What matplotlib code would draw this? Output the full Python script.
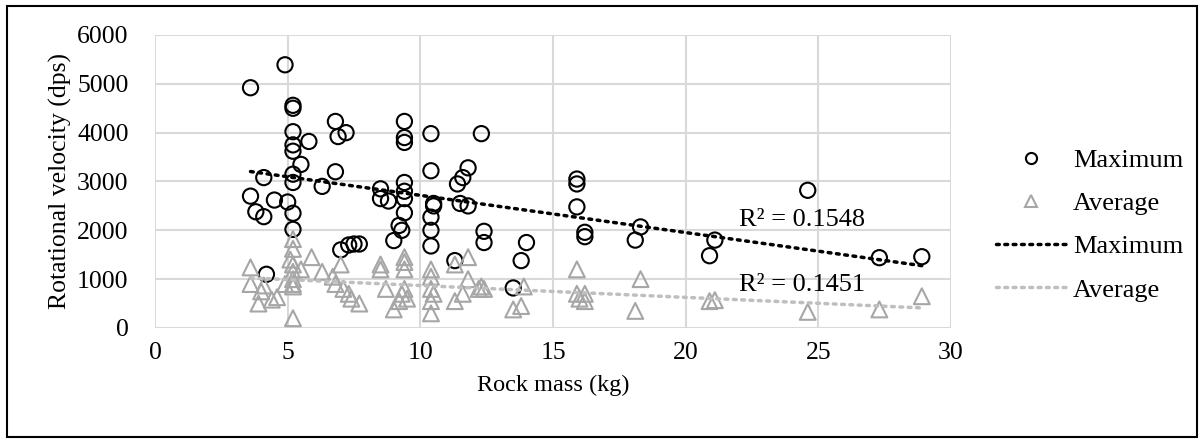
import numpy as np
import matplotlib.pyplot as plt
from matplotlib.lines import Line2D
from matplotlib.patches import Rectangle

plt.rcParams['font.family'] = ['Liberation Serif', 'DejaVu Serif']

# Maximum rotational velocity (circles)
max_mass = [3.6, 3.6, 3.8, 4.1, 4.1, 4.2, 4.5, 4.9, 5.0, 5.2, 5.2, 5.2, 5.2, 5.2,
            5.2, 5.2, 5.2, 5.2, 5.5, 5.8, 6.3, 6.8, 6.8, 6.9, 7.0, 7.2, 7.3, 7.5,
            7.7, 8.5, 8.5, 8.8, 9.0, 9.2, 9.3, 9.4, 9.4, 9.4, 9.4, 9.4, 9.4, 9.4,
            10.4, 10.4, 10.5, 10.5, 10.4, 10.4, 10.4, 11.3, 11.4, 11.5, 11.6, 11.8,
            11.8, 12.3, 12.4, 12.4, 13.5, 13.8, 14.0, 15.9, 15.9, 15.9, 16.2, 16.2,
            18.1, 18.3, 20.9, 21.1, 24.6, 27.3, 28.9]
max_vel = [4920, 2700, 2380, 3080, 2280, 1100, 2620, 5390, 2580, 4560, 4500, 4020,
           3750, 3620, 3150, 2980, 2350, 2020, 3350, 3820, 2900, 4230, 3200, 3920,
           1600, 4000, 1700, 1720, 1720, 2850, 2650, 2600, 1790, 2100, 2000, 4230,
           3900, 3800, 2980, 2800, 2650, 2360, 3980, 3220, 2550, 2500, 2270, 2000,
           1680, 1380, 2950, 2550, 3080, 3280, 2500, 3980, 1980, 1750, 820, 1380,
           1750, 3050, 2950, 2480, 1960, 1870, 1800, 2070, 1480, 1800, 2820, 1440,
           1460]

# Average rotational velocity (triangles)
avg_mass = [3.6, 3.6, 3.9, 4.1, 4.0, 4.4, 4.6, 4.9, 5.1, 5.2, 5.2, 5.2, 5.2, 5.2,
            5.2, 5.2, 5.2, 5.5, 5.9, 6.3, 6.7, 6.8, 7.0, 7.1, 7.3, 7.4, 7.7, 8.5,
            8.5, 8.7, 9.0, 9.2, 9.3, 9.4, 9.4, 9.4, 9.4, 9.5, 10.4, 10.4, 10.4,
            10.5, 10.4, 10.4, 11.3, 11.3, 11.6, 11.8, 11.8, 12.2, 12.3, 12.4, 13.5,
            13.8, 13.9, 15.9, 15.9, 16.0, 16.2, 16.2, 18.1, 18.3, 20.9, 21.1, 24.6,
            27.3, 28.9]
avg_vel = [1240, 900, 500, 870, 750, 580, 630, 900, 1400, 1620, 1820, 1300, 1150,
           1000, 900, 850, 200, 1200, 1450, 1150, 1050, 900, 1300, 800, 700, 600,
           500, 1300, 1200, 800, 380, 550, 700, 1450, 1350, 1200, 800, 600, 1200,
           1050, 800, 700, 550, 300, 1300, 550, 700, 1000, 1450, 800, 850, 800,
           380, 450, 850, 1200, 700, 600, 700, 550, 350, 1000, 550, 570, 330, 380,
           650]

r2_max = '0.1548'
r2_avg = '0.1451'

FS = 19

fig = plt.figure(figsize=(12.04, 4.43), dpi=100)
ax = fig.add_axes([155 / 1204, 1 - 328 / 443, (951 - 155) / 1204, (328 - 35) / 443])

ax.scatter(max_mass, max_vel, s=120, facecolors='none', edgecolors='black',
           linewidths=1.5, marker='o', zorder=3)
ax.scatter(avg_mass, avg_vel, s=130, facecolors='none', edgecolors='#a6a6a6',
           linewidths=1.5, marker='^', zorder=3)

# linear trend lines
for xs, ys, col in [(max_mass, max_vel, 'black'), (avg_mass, avg_vel, '#bfbfbf')]:
    k, b = np.polyfit(xs, ys, 1)
    xx = np.array([min(xs), max(xs)])
    ax.plot(xx, k * xx + b, color=col, linestyle=(0, (0.8, 1.6)),
            linewidth=2.5, dash_capstyle='round', zorder=4)

ax.text(22.0, 2218, 'R² = ' + r2_max, fontsize=FS, va='center', ha='left')
ax.text(22.0, 883, 'R² = ' + r2_avg, fontsize=FS, va='center', ha='left')

ax.set_xlim(0, 30)
ax.set_ylim(0, 6000)
ax.set_xticks(range(0, 31, 5))
ax.set_yticks(range(0, 6001, 1000))
ax.grid(True, color='#d9d9d9', linewidth=1.5)
ax.set_axisbelow(True)
for s in ax.spines.values():
    s.set_visible(False)
ax.tick_params(length=0, labelsize=18.5)
ax.tick_params(axis='y', pad=19)
ax.tick_params(axis='x', pad=10)
ax.set_xlabel('Rock mass (kg)', fontsize=17.5, labelpad=8)
ax.set_ylabel('Rotational velocity (dps)', fontsize=18.5, labelpad=4)

handles = [
    Line2D([], [], marker='o', linestyle='none', markerfacecolor='none',
           markeredgecolor='black', markersize=8, markeredgewidth=1.5),
    Line2D([], [], marker='^', linestyle='none', markerfacecolor='none',
           markeredgecolor='#a6a6a6', markersize=8, markeredgewidth=1.5),
    Line2D([], [], color='black', linestyle=(0, (0.8, 1.6)), linewidth=2.5,
           dash_capstyle='round'),
    Line2D([], [], color='#bfbfbf', linestyle=(0, (0.8, 1.6)), linewidth=2.5,
           dash_capstyle='round'),
]
fig.legend(handles, ['Maximum', 'Average', 'Maximum', 'Average'],
           loc='center left', bbox_to_anchor=(996 / 1204, 1 - 225 / 443),
           frameon=False, fontsize=FS, handlelength=2.65, handletextpad=0.27,
           labelspacing=0.75, borderpad=0, borderaxespad=0)

fig.patches.append(Rectangle((7 / 1204, 6 / 443), 1190 / 1204, 431 / 443,
                             transform=fig.transFigure, fill=False,
                             edgecolor='black', linewidth=1.5))

fig.savefig('out.png', dpi=100)
